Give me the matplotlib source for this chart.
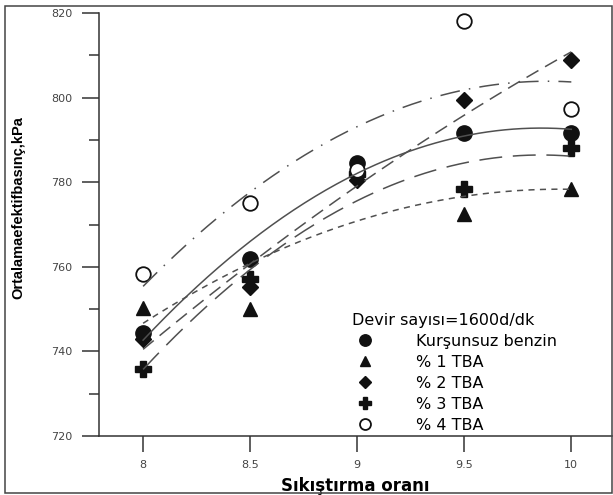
import numpy as np
import matplotlib
matplotlib.use("Agg")
from matplotlib import pyplot as plt
from matplotlib.lines import Line2D
from matplotlib.patches import Rectangle
from matplotlib.ticker import MultipleLocator

# ------------------------------------------------------------------- data
ratio = [8, 8.5, 9, 9.5, 10]
unleaded = [744.3, 761.9, 784.6, 791.7, 791.7]
tba1 = [750.2, 750.0, 782.0, 772.6, 778.5]
tba2 = [743.0, 755.2, 780.6, 799.4, 808.8]
tba3 = [735.8, 757.1, 782.0, 778.3, 788.2]
tba4 = [758.4, 775.0, 783.0, 818.0, 797.3]

labels = ["Kurşunsuz benzin", "% 1 TBA", "% 2 TBA", "% 3 TBA", "% 4 TBA"]
series = [unleaded, tba1, tba2, tba3, tba4]

# ------------------------------------------------------------------ styles
ink = "#111111"
line_c = "#505050"
markers = [
    dict(marker="o", ms=11, mfc=ink, mec=ink),
    dict(marker="^", ms=9.5, mfc=ink, mec=ink),
    dict(marker="D", ms=8, mfc=ink, mec=ink),
    dict(marker="P", ms=11, mfc=ink, mec=ink),
    dict(marker="o", ms=10.5, mfc="white", mec=ink, mew=1.3),
]
dashes = [
    None,
    (4, 3.5),
    (9, 5),
    (15, 7),
    (13, 6, 1, 6),
]

fig = plt.figure(figsize=(6.13, 4.95), dpi=100)
ax = fig.add_axes([99 / 613, 59 / 495, 513 / 613, 423 / 495])

# fitted 2nd order trend lines
xs = np.linspace(8, 10, 200)
for ys, d in zip(series, dashes):
    fit = np.polyval(np.polyfit(ratio, ys, 2), xs)
    ln, = ax.plot(xs, fit, color=line_c, lw=1.1, zorder=3)
    if d is not None:
        ln.set_dashes(d)

handles = []
for ys, m, lab in zip(series, markers, labels):
    ax.plot(ratio, ys, ls="none", zorder=2, **m)
    hm = dict(m)
    hm["ms"] = m["ms"] * 0.75
    handles.append(Line2D([], [], ls="none", label=lab, **hm))

ax.set_xlim(7.794, 10.19)
ax.set_ylim(720, 820)
ax.spines["top"].set_visible(False)
ax.spines["right"].set_visible(False)
for s in ("left", "bottom"):
    ax.spines[s].set_color("#333333")
    ax.spines[s].set_linewidth(1.1)

ax.set_xticks(ratio)
ax.set_xticklabels(["8", "8.5", "9", "9.5", "10"])
ax.yaxis.set_major_locator(MultipleLocator(20))
ax.yaxis.set_minor_locator(MultipleLocator(10))
ax.tick_params(axis="both", which="major", direction="out", color="#333333",
               width=1.1, labelsize=8, labelcolor="#444444")
ax.tick_params(axis="y", which="major", length=12.2, pad=7)
ax.tick_params(axis="y", which="minor", length=7.2, width=1.1, color="#333333")
ax.tick_params(axis="x", which="major", length=11.5, pad=6)

ax.set_xlabel("Sıkıştırma oranı", fontsize=12, fontweight="bold",
              family="DejaVu Sans", labelpad=5)
ax.set_ylabel("Ortalamaefektifbasınç,kPa", fontsize=10.5, fontweight="bold",
              family="Liberation Sans")
ax.yaxis.set_label_coords(-0.143, 0.541)

leg = ax.legend(handles=handles, title="Devir sayısı=1600d/dk",
                loc="upper left", bbox_to_anchor=(352 / 613, 1 - 313 / 495),
                bbox_transform=fig.transFigure, frameon=False,
                fontsize=11.5, title_fontsize=11.5, alignment="left",
                borderpad=0, borderaxespad=0, handlelength=1.6,
                handletextpad=2.4, labelspacing=0.37)

fig.patches.append(Rectangle((5 / 613, 2 / 495), 607 / 613, 487 / 495,
                             transform=fig.transFigure, fill=False,
                             edgecolor="#444444", lw=1.1))

fig.savefig("out.png", dpi=100)
